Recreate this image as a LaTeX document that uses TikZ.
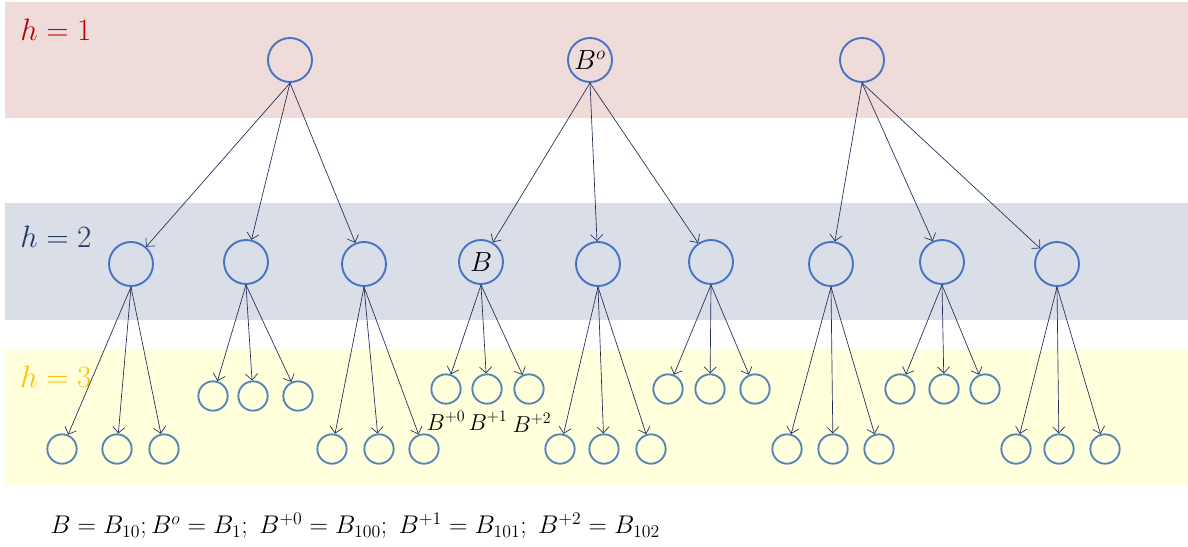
\documentclass[tikz,border=0pt]{standalone}
\usepackage{graphicx}
\usepackage{tikz}
\usetikzlibrary{arrows.meta}
\definecolor{bandRed}{HTML}{EFDBDA}
\definecolor{bandBlue}{HTML}{D9DEE7}
\definecolor{bandYellow}{HTML}{FFFFDC}
\definecolor{hRed}{HTML}{C00000}
\definecolor{hNavy}{HTML}{1F3864}
\definecolor{hGold}{HTML}{FFC000}
\definecolor{treeBlue}{HTML}{4472C4}
\definecolor{leafBlue}{HTML}{5585B5}
\definecolor{linkInk}{HTML}{1F2D5A}
\newcommand{\hmark}[1]{\scalebox{1.12}{$h=#1$}}
\tikzset{
  bignode/.style  = {circle, draw=treeBlue, line width=1.4pt, minimum size=33pt,
                     inner sep=0pt, font=\huge},
  leafnode/.style = {circle, draw=leafBlue, line width=1.4pt, minimum size=22pt,
                     inner sep=0pt},
  link/.style     = {-{Straight Barb[length=1.6mm]}, line width=0.5pt, draw=linkInk},
  hlbl/.style     = {font=\huge, anchor=west, inner sep=0pt},
  sublbl/.style   = {font=\LARGE, inner sep=1pt},
}

\begin{document}
\begin{tikzpicture}[x=0.75pt, y=-0.75pt]
  \useasboundingbox (0,0) rectangle (1188,546);

  % bands
  \fill[bandRed]    (5,2)   rectangle (1188,118);
  \fill[bandBlue]   (5,203) rectangle (1188,320);
  \fill[bandYellow] (5,350) rectangle (1188,485);

  \node[hlbl, text=hRed]  (hone)   at (20,30)  {\hmark{1}};
  \node[hlbl, text=hNavy] (htwo)   at (20,237) {\hmark{2}};
  \node[hlbl, text=hGold] (hthree) at (20,377) {\hmark{3}};

  % top level
  \node[bignode] (t1) at (290,60) {};
  \node[bignode] (t2) at (590,60) {$B^o$};
  \node[bignode] (t3) at (862,60) {};

  % second level
  \node[bignode] (m1) at (131,264) {};
  \node[bignode] (m2) at (246,262) {};
  \node[bignode] (m3) at (364,264) {};
  \node[bignode] (m4) at (481,262) {$B$};
  \node[bignode] (m5) at (598,264) {};
  \node[bignode] (m6) at (711,262) {};
  \node[bignode] (m7) at (831,264) {};
  \node[bignode] (m8) at (942,262) {};
  \node[bignode] (m9) at (1057,264) {};

  \foreach \t/\m in {t1/m1, t1/m2, t1/m3, t2/m4, t2/m5, t2/m6, t3/m7, t3/m8, t3/m9}
    \draw[link] (\t.south) -- (\m);

  % third level
  \foreach \m/\y/\xa/\xb/\xc in {m1/449/62/117/164, m2/396/213/253/298,
      m3/449/332/379/424, m4/389/446/487/529, m5/449/560/604/651,
      m6/389/668/710/755, m7/449/787/833/879, m8/389/900/944/985,
      m9/449/1016/1059/1105} {
    \node[leafnode] (\m-a) at (\xa,\y) {};
    \node[leafnode] (\m-b) at (\xb,\y) {};
    \node[leafnode] (\m-c) at (\xc,\y) {};
    \draw[link] (\m.south) -- (\m-a);
    \draw[link] (\m.south) -- (\m-b);
    \draw[link] (\m.south) -- (\m-c);
  }

  \node[sublbl] (bz) at (446,421) {$B^{+0}$};
  \node[sublbl] (bo) at (488,421) {$B^{+1}$};
  \node[sublbl] (bt) at (532,423) {$B^{+2}$};

  \node[font=\LARGE, anchor=west, inner sep=0pt] (legend) at (50,526)
    {\scalebox{1.11}{$B=B_{10}; B^o=B_1;\; B^{+0}=B_{100};\; B^{+1}=B_{101};\; B^{+2}=B_{102}$}};
\end{tikzpicture}
\end{document}
